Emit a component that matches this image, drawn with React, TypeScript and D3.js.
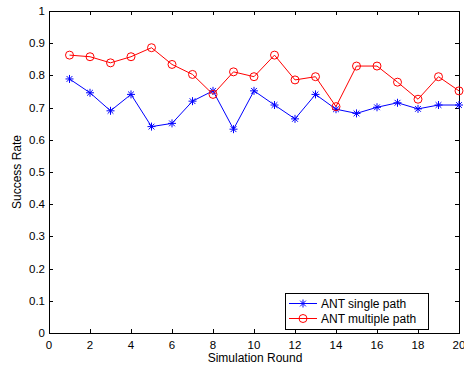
import * as React from 'react'
import * as d3 from 'd3'

const rounds = [1, 2, 3, 4, 5, 6, 7, 8, 9, 10, 11, 12, 13, 14, 15, 16, 17, 18, 19, 20]
const singlePath = [0.789, 0.746, 0.69, 0.741, 0.641, 0.651, 0.72, 0.752, 0.633, 0.752, 0.708, 0.665, 0.741, 0.695, 0.682, 0.701, 0.715, 0.696, 0.708, 0.708]
const multiplePath = [0.863, 0.858, 0.839, 0.858, 0.886, 0.834, 0.803, 0.741, 0.811, 0.796, 0.863, 0.786, 0.796, 0.703, 0.829, 0.829, 0.779, 0.726, 0.796, 0.752]
const xTicks = [0, 2, 4, 6, 8, 10, 12, 14, 16, 18, 20]
const yTicks = [0, 0.1, 0.2, 0.3, 0.4, 0.5, 0.6, 0.7, 0.8, 0.9, 1]
const seriesNames = ['ANT single path', 'ANT multiple path']

const W = 464
const H = 368
const font = 'Liberation Sans, Arial, sans-serif'

export default function App() {
  const svgRef = React.useRef<SVGSVGElement>(null)

  React.useEffect(() => {
    if (!svgRef.current) return
    const svg = d3.select(svgRef.current)
    svg.selectAll('*').remove()

    const left = 49
    const right = 459
    const top = 11
    const bottom = 333
    const x = d3.scaleLinear().domain([0, 20]).range([left, right])
    const y = d3.scaleLinear().domain([0, 1]).range([bottom, top])

    svg.append('rect').attr('width', W).attr('height', H).attr('fill', '#fff')

    // ticks (inward, on all sides like matlab)
    const tl = 4
    const g = svg.append('g').attr('stroke', '#000').attr('stroke-width', 1)
    xTicks.forEach((t) => {
      const px = Math.round(x(t)) + 0.5
      g.append('line').attr('x1', px).attr('x2', px).attr('y1', bottom).attr('y2', bottom - tl)
      g.append('line').attr('x1', px).attr('x2', px).attr('y1', top).attr('y2', top + tl)
    })
    yTicks.forEach((t) => {
      const py = Math.round(y(t)) + 0.5
      g.append('line').attr('x1', left).attr('x2', left + tl).attr('y1', py).attr('y2', py)
      g.append('line').attr('x1', right).attr('x2', right - tl).attr('y1', py).attr('y2', py)
    })
    svg.append('rect')
      .attr('x', left + 0.5)
      .attr('y', top + 0.5)
      .attr('width', right - left)
      .attr('height', bottom - top)
      .attr('fill', 'none')
      .attr('stroke', '#000')

    // tick labels
    xTicks.forEach((t) => {
      svg.append('text')
        .attr('x', x(t))
        .attr('y', bottom + 16)
        .attr('text-anchor', 'middle')
        .attr('font-family', font)
        .attr('font-size', '11.5px')
        .text(String(t))
    })
    yTicks.forEach((t) => {
      svg.append('text')
        .attr('x', left - 4)
        .attr('y', y(t) + 4)
        .attr('text-anchor', 'end')
        .attr('font-family', font)
        .attr('font-size', '11.5px')
        .text(String(t))
    })

    svg.append('text')
      .attr('x', (left + right) / 2 + 1)
      .attr('y', 362)
      .attr('text-anchor', 'middle')
      .attr('font-family', font)
      .attr('font-size', '12px')
      .text('Simulation Round')
    svg.append('text')
      .attr('transform', `translate(21,${(top + bottom) / 2}) rotate(-90)`)
      .attr('text-anchor', 'middle')
      .attr('font-family', font)
      .attr('font-size', '12px')
      .text('Success Rate')

    const line = d3
      .line<number>()
      .x((_, i) => x(rounds[i]))
      .y((d) => y(d))

    const star = (sel: d3.Selection<SVGGElement, unknown, null, undefined>, cx: number, cy: number, color: string) => {
      const r = 4
      const d = r * 0.72
      sel.append('path')
        .attr('d', `M${cx - r},${cy}H${cx + r}M${cx},${cy - r}V${cy + r}M${cx - d},${cy - d}L${cx + d},${cy + d}M${cx - d},${cy + d}L${cx + d},${cy - d}`)
        .attr('stroke', color)
        .attr('stroke-width', 1)
        .attr('fill', 'none')
    }

    // single path
    const gs = svg.append('g')
    gs.append('path')
      .datum(singlePath)
      .attr('d', line)
      .attr('fill', 'none')
      .attr('stroke', '#0000ff')
      .attr('stroke-width', 1)
    singlePath.forEach((v, i) => star(gs, x(rounds[i]), y(v), '#0000ff'))

    // multiple path
    const gm = svg.append('g')
    gm.append('path')
      .datum(multiplePath)
      .attr('d', line)
      .attr('fill', 'none')
      .attr('stroke', '#ff0000')
      .attr('stroke-width', 1)
    multiplePath.forEach((v, i) => {
      gm.append('circle')
        .attr('cx', x(rounds[i]))
        .attr('cy', y(v))
        .attr('r', 4)
        .attr('fill', 'none')
        .attr('stroke', '#ff0000')
    })

    // legend
    const lg = svg.append('g')
    lg.append('rect')
      .attr('x', 285.5)
      .attr('y', 293.5)
      .attr('width', 143)
      .attr('height', 36)
      .attr('fill', '#fff')
      .attr('stroke', '#000')
    const colors = ['#0000ff', '#ff0000']
    seriesNames.forEach((name, i) => {
      const ly = 303 + i * 15
      lg.append('line')
        .attr('x1', 289)
        .attr('x2', 317)
        .attr('y1', ly + 0.5)
        .attr('y2', ly + 0.5)
        .attr('stroke', colors[i])
      if (i === 0) star(lg, 303, ly + 0.5, colors[i])
      else lg.append('circle').attr('cx', 303).attr('cy', ly + 0.5).attr('r', 4).attr('fill', 'none').attr('stroke', colors[i])
      lg.append('text')
        .attr('x', 321)
        .attr('y', ly + 4.5)
        .attr('font-family', font)
        .attr('font-size', '12px')
        .text(name)
    })
  }, [])

  return (
    <svg
      ref={svgRef}
      width={W}
      height={H}
      style={{ position: 'fixed', left: 0, top: 0, display: 'block' }}
    />
  )
}
